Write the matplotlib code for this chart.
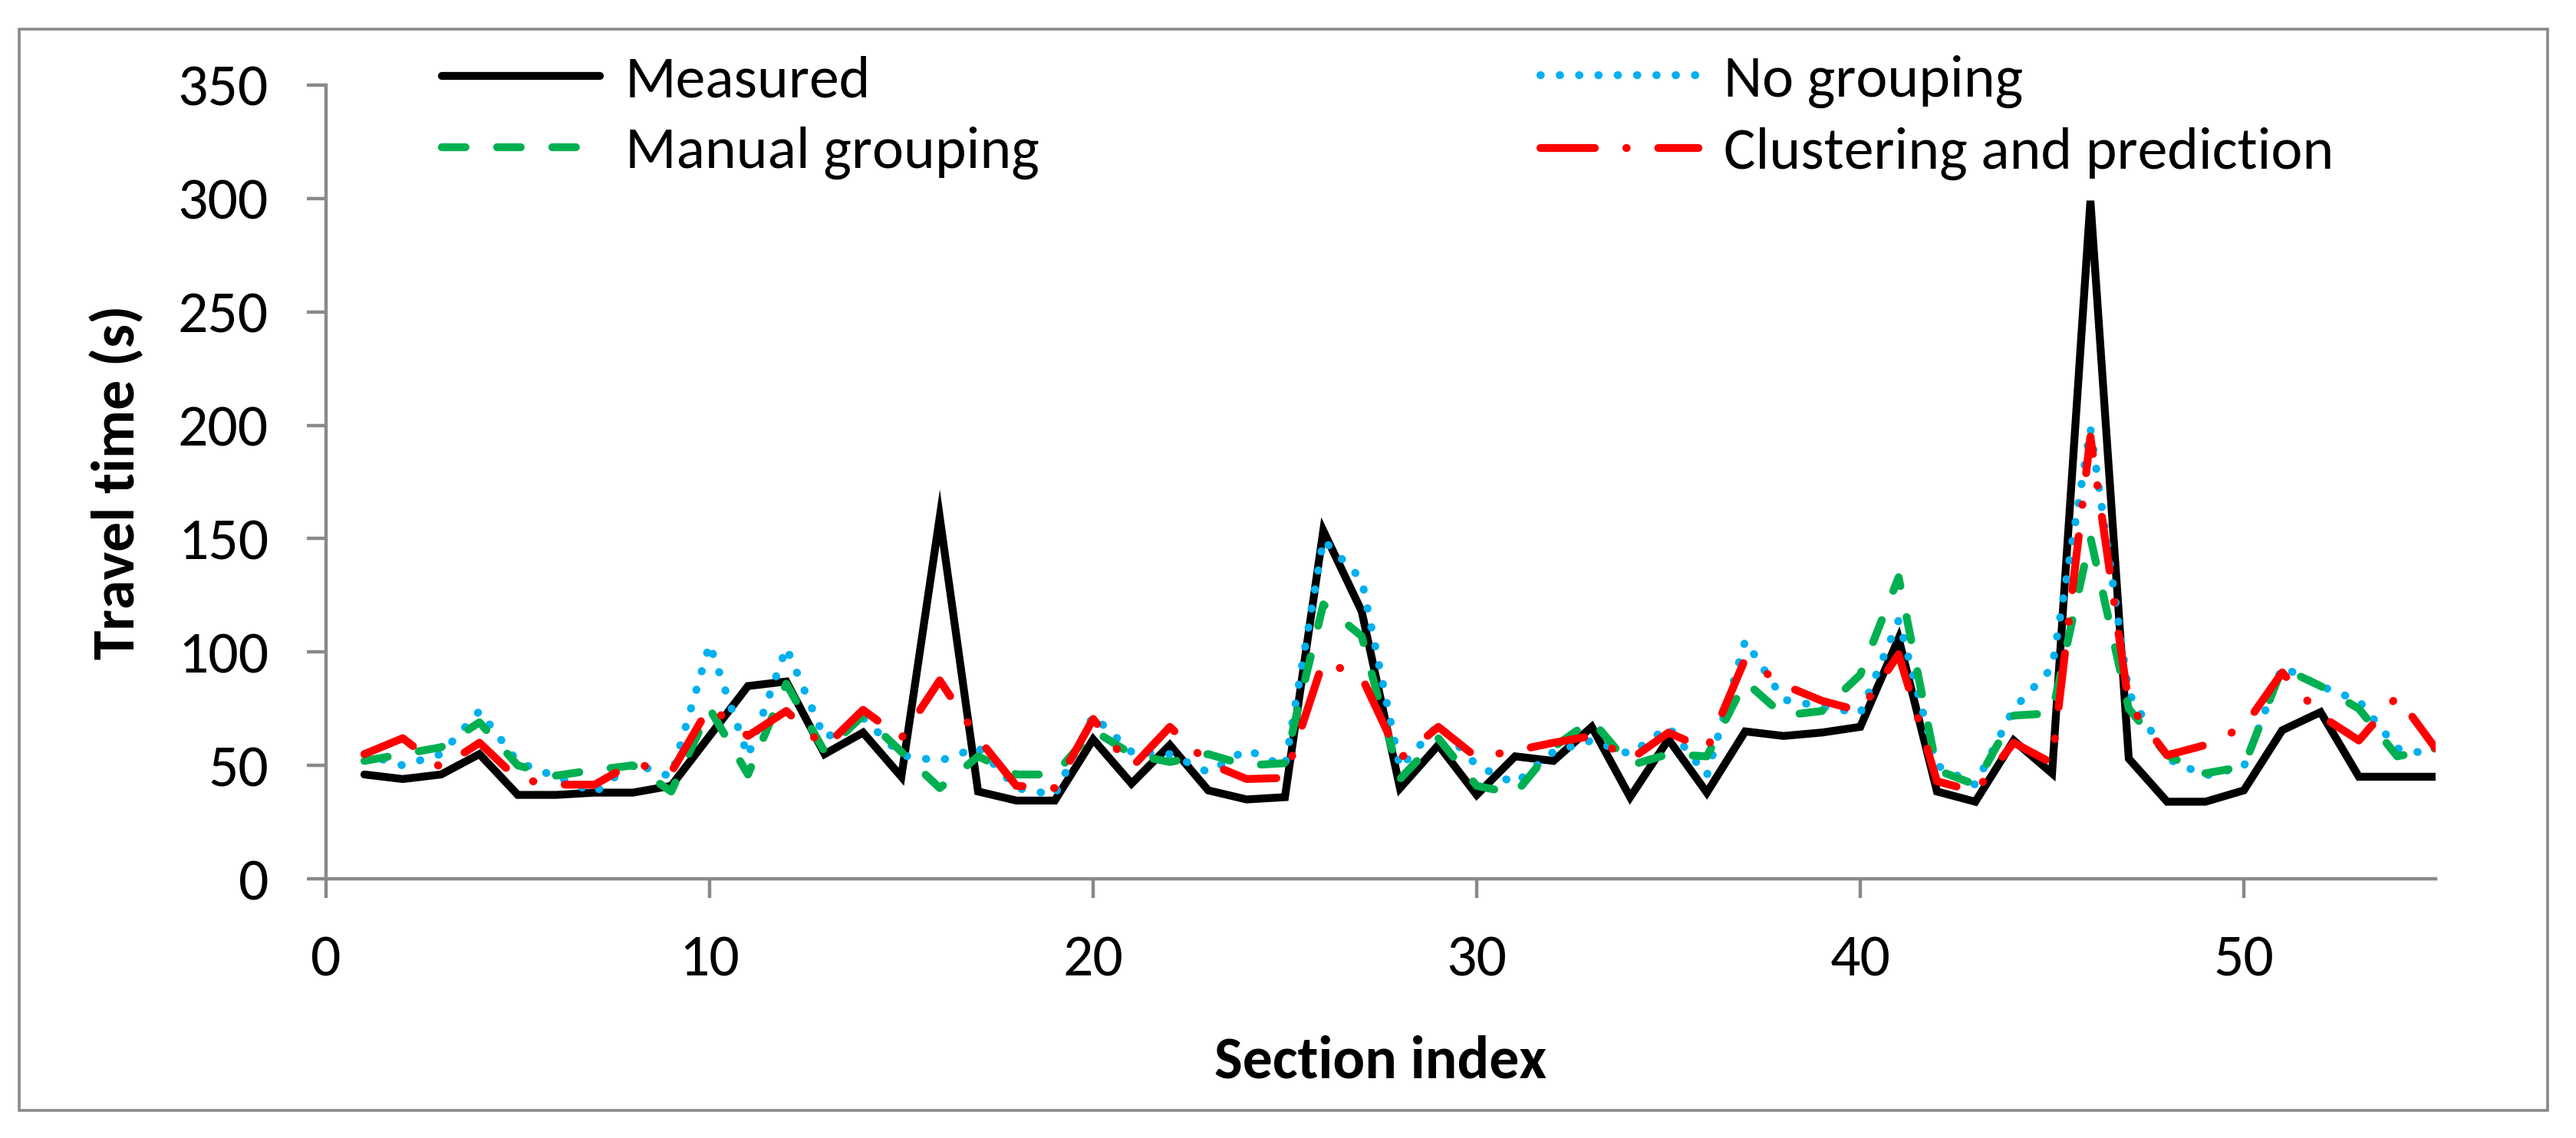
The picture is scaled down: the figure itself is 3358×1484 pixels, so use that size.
import matplotlib
matplotlib.use("Agg")
import matplotlib.pyplot as plt
from matplotlib import font_manager
from matplotlib.patches import Rectangle

# ---------- data ----------
section = list(range(1, 56))

measured = [46, 44, 46, 55, 37, 37, 38, 38, 41, 63,
            85, 87, 55, 64.5, 45, 159.5, 38.5, 34.5, 34.5, 61.5,
            42, 59, 39, 35, 36, 153.5, 118, 40, 59, 37,
            54, 52, 67, 36, 61.5, 38, 65, 63, 64.5, 67,
            106, 38.5, 34, 61, 46.5, 299, 53, 34, 34, 39,
            65.5, 73.5, 45, 45, 45]

no_grouping = [55, 50, 55, 74, 51.5, 45, 38, 51, 45, 103.5,
               54, 102, 62, 71, 54.5, 52, 58, 40, 37, 72,
               56, 55, 47, 57, 49.5, 149.5, 132, 49, 68, 50,
               42, 56, 61, 55, 67, 45.5, 105, 79, 76, 73,
               114, 50, 41.5, 75, 93, 198.5, 82, 53, 45.5, 49.5,
               93.5, 85, 78.5, 57.5, 54.5]

manual_grouping = [52, 55, 58, 69, 50, 45.5, 48, 50, 38.5, 75,
                   46, 86, 56, 72, 56, 40, 54, 46, 46, 65.5,
                   55, 51.5, 55, 50, 51, 121, 107, 44, 62, 41,
                   37.5, 58, 70, 50, 55, 54, 87, 72, 74, 90,
                   133, 48, 41.5, 72, 73, 150.5, 75, 54.5, 46.5, 49.5,
                   93, 85, 75, 54, 57.5]

clustering = [55, 62, 49, 60, 44, 41.5, 41.5, 51, 47, 76,
              63, 74, 58, 74.5, 62, 87.5, 62, 41, 40, 70.5,
              49, 67, 51, 44, 44.5, 96, 89, 53, 67, 53.5,
              56.5, 60, 63, 52.5, 64.5, 57, 97, 85.5, 78.5, 74,
              99, 43, 38.5, 60, 51, 195, 77, 54.5, 59, 67,
              91, 72, 61, 80.5, 57.5]

x_ticks = [0, 10, 20, 30, 40, 50]
y_ticks = [0, 50, 100, 150, 200, 250, 300, 350]

# ---------- fonte ----------
nomes = {f.name for f in font_manager.fontManager.ttflist}
fonte = "Carlito" if "Carlito" in nomes else "Lato"
plt.rcParams["font.family"] = [fonte, "DejaVu Sans"]

cinza = "#898989"
W, H, DPI = 3358, 1484, 200
fs = 28

fig = plt.figure(figsize=(W / DPI, H / DPI), dpi=DPI)
ax = fig.add_axes([425 / W, 1 - 1146 / H, 2750 / W, (1146 - 111) / H])

# ---------- séries ----------
lw = 3.7
l_meas, = ax.plot(section, measured, color="black", lw=lw,
                  solid_joinstyle="miter", solid_capstyle="round")
l_nog, = ax.plot(section, no_grouping, color="#00B0F0", lw=lw,
                 dashes=(0.05, 2.4), dash_capstyle="round")
l_man, = ax.plot(section, manual_grouping, color="#00B050", lw=lw,
                 dashes=(3.0, 4.0), dash_capstyle="round")
l_clu, = ax.plot(section, clustering, color="#FF0000", lw=lw,
                 dashes=(6.9, 4.0, 0.05, 4.0), dash_capstyle="round")

# ---------- eixos ----------
ax.set_xlim(0, 55)
ax.set_ylim(0, 350)
ax.set_xticks(x_ticks)
ax.set_yticks(y_ticks)
for s in ["top", "right"]:
    ax.spines[s].set_visible(False)
for s in ["left", "bottom"]:
    ax.spines[s].set_color(cinza)
    ax.spines[s].set_linewidth(1.6)
ax.tick_params(axis="both", direction="out", length=9, width=1.6,
               color=cinza, labelsize=fs, labelcolor="black")
ax.tick_params(axis="y", pad=18)
ax.tick_params(axis="x", pad=17)

fig.text(175 / W, 1 - 629 / H, "Travel time (s)", rotation=90,
         rotation_mode="anchor", ha="center", va="baseline",
         fontsize=fs, fontweight="bold")
fig.text(1800 / W, 1 - 1405 / H, "Section index",
         ha="center", va="baseline", fontsize=fs, fontweight="bold")

# ---------- legenda (duas colunas) ----------
kw = dict(frameon=False, fontsize=fs, handlelength=2.65, handletextpad=0.42,
          labelspacing=0.32, borderpad=0, borderaxespad=0, loc="center left")
leg1 = fig.legend([l_meas, l_man], ["Measured", "Manual grouping"],
                  bbox_to_anchor=(576 / W, 1 - 153 / H), **kw)
leg2 = fig.legend([l_nog, l_clu], ["No grouping", "Clustering and prediction"],
                  bbox_to_anchor=(2008 / W, 1 - 153 / H), **kw)

# ---------- moldura ----------
fig.patches.append(Rectangle((25 / W, 1 - 1448 / H), (3321 - 25) / W,
                             (1448 - 38) / H, transform=fig.transFigure,
                             fill=False, edgecolor=cinza, lw=1.3))

fig.savefig("out.png", dpi=DPI)
